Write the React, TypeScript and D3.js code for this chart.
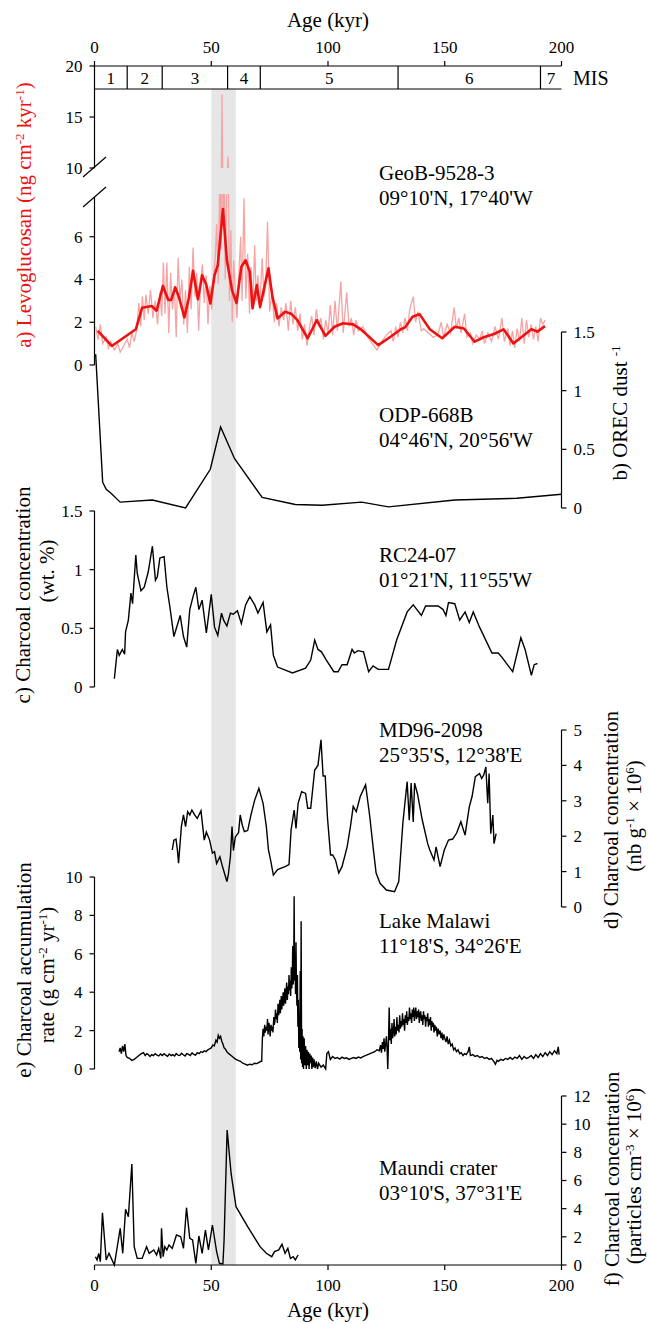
import React from 'react';
import * as d3 from 'd3';

const FONT = "'Liberation Serif', 'Times New Roman', serif";

// shared age axis
const ageTicks = [0, 50, 100, 150, 200];
const misBounds = [0, 14, 29, 57, 71, 130, 191, 200];
const misLabels = ['1', '2', '3', '4', '5', '6', '7'];
const bandAges = [50, 60.5];

// a) Levoglucosan, GeoB-9528-3 (raw + smoothed)
const levRaw: [number, number][] = [
  [0.5, 1.8], [1.5, 1.2], [2.5, 1.9], [3.5, 1.0], [5, 1.3], [6, 0.8], [7, 1.1], [8.5, 0.7], [10, 1.0], [11, 0.6],
  [12.5, 0.9], [14, 1.2], [15, 0.8], [16, 1.5], [17, 1.1], [18, 1.6], [19, 2.9], [19.8, 1.8], [20.5, 3.2], [21.3, 2.1],
  [22, 3.3], [23, 2.4], [24, 3.5], [25, 2.2], [26, 3.0], [27, 1.9], [28, 3.4], [28.8, 2.3], [29.5, 4.8], [30.2, 2.4],
  [31, 4.8], [31.8, 1.5], [32.6, 4.3], [33.4, 2.6], [34.2, 3.7], [35, 1.3], [35.8, 5.0], [36.6, 3.0], [37.4, 4.0], [38.2, 1.9],
  [39, 3.5], [39.8, 1.5], [40.6, 4.6], [41.4, 2.6], [42.2, 5.5], [43, 3.2], [43.8, 4.3], [44.6, 1.6], [45.4, 3.8], [46.2, 4.7],
  [47, 2.9], [47.8, 4.2], [48.6, 1.9], [49.4, 3.7], [50.2, 2.6], [51, 4.1], [51.8, 5.2], [52.3, 6.6], [53, 3.8], [53.6, 8.5],
  [54.2, 5.4], [54.6, 17.2], [55, 6.5], [55.5, 9.0], [56, 4.0], [56.6, 8.5], [57.2, 11.1], [57.8, 3.0], [58.4, 6.3], [59, 2.0],
  [59.6, 4.9], [60.3, 3.5], [61, 2.2], [61.8, 4.2], [62.6, 6.0], [63.2, 3.0], [64, 7.8], [64.8, 3.1], [65.6, 5.2], [66.4, 2.4],
  [67, 4.6], [67.8, 2.7], [68.6, 5.6], [69.3, 3.0], [70, 4.2], [70.8, 2.6], [71.8, 5.0], [72.6, 3.2], [73.4, 4.0], [74.1, 6.7],
  [75, 2.5], [76, 3.4], [77, 2.0], [78, 2.9], [79, 1.8], [80, 2.7], [81, 2.1], [82, 2.9], [83, 1.6], [84, 3.0],
  [85, 1.9], [86, 2.7], [87, 1.6], [88, 2.4], [89, 1.2], [90, 1.9], [91, 0.9], [92, 1.7], [93, 2.3], [94, 1.4],
  [95, 2.6], [96, 1.8], [97, 2.2], [98, 1.2], [99, 2.1], [100, 1.5], [101, 2.8], [102, 1.4], [103, 3.0], [104, 1.6],
  [105.5, 3.9], [106.5, 1.5], [108, 3.4], [109, 1.8], [110, 2.2], [111, 1.4], [112, 2.1], [113, 1.6], [115, 1.8], [117, 1.3],
  [119, 1.0], [121, 0.7], [123, 1.1], [125, 1.4], [127, 1.6], [128, 1.1], [129, 1.8], [130, 1.3], [131, 2.0], [132, 1.5],
  [133, 2.2], [134, 1.6], [135, 2.6], [136.5, 3.2], [137.5, 2.0], [138.5, 2.5], [140, 1.6], [141, 1.7], [143, 1.5], [145, 1.3],
  [147, 1.4], [148.5, 2.0], [149.5, 1.3], [151, 1.9], [152.5, 1.5], [154, 2.7], [155, 1.7], [156, 2.2], [157, 1.5], [158.5, 2.4],
  [159.5, 1.3], [161, 1.5], [162, 1.0], [163.5, 1.4], [165, 1.2], [166, 1.6], [167, 1.0], [168.5, 1.5], [170, 1.1], [171.5, 1.8],
  [173, 1.2], [174.5, 2.2], [175.5, 1.1], [177, 1.7], [178, 0.9], [179, 1.6], [180, 0.8], [181, 1.7], [182, 1.1], [183, 2.2],
  [184, 1.0], [185, 2.1], [186, 1.3], [187, 1.9], [188, 1.2], [189, 1.8], [190, 1.1], [191, 2.2], [192, 1.9], [193, 2.1],
];
const levSmooth: [number, number][] = [
  [1.4, 1.6], [7.4, 0.89], [17.7, 1.67], [20.4, 2.68], [24.5, 2.76], [26.6, 2.54], [29.3, 3.7], [31.6, 3.04], [32.8, 3.04],
  [34.6, 3.63], [36.3, 3.12], [38.5, 2.23], [40.4, 3.12], [42.2, 4.41], [44.3, 3.07], [46.1, 4.2], [47.9, 3.74], [49.6, 2.88],
  [51.4, 4.2], [52.8, 4.67], [55, 7.3], [56.7, 4.9], [58.9, 3.5], [60.8, 2.9], [62.9, 4.6], [64.7, 4.9], [66.5, 4.36],
  [67.7, 2.65], [69.5, 3.74], [70.9, 2.72], [74.5, 4.52], [76.2, 3.19], [78.4, 2.18], [81.6, 2.49], [84.2, 2.4], [86.9, 2.1],
  [91.3, 1.25], [95.2, 2.1], [98.9, 1.36], [102.8, 1.79], [106.4, 1.95], [110.8, 1.9], [114.4, 1.64], [121.5, 0.93],
  [126.8, 1.32], [131.2, 1.67], [133, 1.76], [136.2, 2.26], [139.2, 2.38], [143.6, 1.67], [148.9, 1.25], [154.3, 1.79],
  [158.2, 1.71], [162.8, 1.09], [166.7, 1.3], [171.1, 1.45], [175.2, 1.67], [179.4, 1.01], [187.1, 1.67], [189.7, 1.56],
  [192.9, 1.82],
];
const levTicksUpper = [20, 15, 10];
const levTicksLower = [0, 2, 4, 6];

// b) OREC dust-1, ODP-668B
const orec: [number, number][] = [
  [0.5, 1.31], [3.5, 0.22], [5, 0.16], [7.1, 0.125], [11, 0.05], [24.8, 0.068], [39, 0.0], [49.6, 0.33], [54, 0.69],
  [60, 0.42], [71.8, 0.09], [86, 0.03], [97.5, 0.023], [114.4, 0.05], [125.9, 0.01], [154.3, 0.068], [180.9, 0.083],
  [200, 0.117],
];
const orecTicks = [0, 0.5, 1, 1.5];

// c) RC24-07 charcoal (wt. %)
const rc24: [number, number][] = [
  [8.5, 0.07], [9.8, 0.32], [10.6, 0.27], [11.9, 0.32], [12.9, 0.28], [13.3, 0.47], [14.5, 0.57], [15.6, 0.8], [16.3, 0.71],
  [17.7, 1.125], [18.3, 0.97], [19.9, 0.82], [21.3, 0.85], [23, 0.98], [24.8, 1.2], [26.1, 0.91], [26.9, 0.94], [28, 1.1],
  [29.8, 1.11], [31, 0.85], [32.3, 0.68], [34, 0.43], [36.7, 0.61], [38.1, 0.43], [39.5, 0.34], [40.8, 0.66], [42.2, 0.77],
  [43.4, 0.85], [44.7, 0.66], [46.1, 0.74], [47.9, 0.46], [50, 0.79], [51.4, 0.51], [52.8, 0.44], [54.4, 0.63], [55.3, 0.57],
  [56.7, 0.52], [58.2, 0.63], [59.4, 0.62], [61.2, 0.65], [62.9, 0.54], [64.7, 0.7], [66.5, 0.77], [68.6, 0.7], [70, 0.63],
  [72.2, 0.72], [73.8, 0.47], [75.4, 0.53], [76.6, 0.27], [78.4, 0.17], [84.8, 0.12], [90.4, 0.16], [92.6, 0.23], [94.3, 0.4],
  [95.7, 0.32], [97.2, 0.3], [99.3, 0.23], [102.5, 0.13], [104.3, 0.13], [106, 0.19], [108.2, 0.19], [110.3, 0.32],
  [111.3, 0.29], [112.8, 0.31], [115.2, 0.3], [117.4, 0.13], [119.3, 0.18], [121.5, 0.15], [125.9, 0.15], [129.4, 0.4],
  [133.9, 0.64], [136.5, 0.7], [140, 0.61], [141.8, 0.69], [147.2, 0.69], [149.3, 0.66], [150.5, 0.61], [151.6, 0.72],
  [154.3, 0.71], [156.4, 0.57], [158.7, 0.64], [160.5, 0.55], [162.2, 0.64], [164.9, 0.51], [170.2, 0.29], [172.9, 0.29],
  [174.6, 0.25], [179.1, 0.13], [182.6, 0.42], [184.4, 0.32], [187.1, 0.1], [188.3, 0.19], [189.7, 0.2],
];
const rcTicks = [0, 0.5, 1, 1.5];

// d) MD96-2098 charcoal (nb g-1 x 10^6)
const md96: [number, number][] = [
  [33.3, 1.61], [34, 1.89], [34.9, 1.92], [35.5, 1.61], [36, 1.24], [37.2, 2.27], [38.1, 2.6], [39, 2.27], [39.9, 2.69],
  [40.8, 2.6], [41.7, 2.74], [42.9, 2.6], [44, 2.5], [45.6, 2.72], [47, 1.89], [47.9, 2.12], [49.3, 1.89], [50.5, 1.52],
  [51.4, 1.56], [52.3, 1.23], [53.7, 1.42], [55, 1.1], [56.7, 0.72], [57.3, 0.91], [58.2, 1.42], [58.9, 2.27], [59.5, 1.6],
  [60.3, 1.98], [61.7, 2.1], [62.4, 2.6], [63.3, 2.31], [64.2, 2.13], [65.6, 2.16], [67, 2.6], [68.6, 3.02], [70.4, 3.35],
  [72.2, 2.93], [73.6, 2.27], [74.5, 1.61], [75.4, 1.33], [76.6, 0.9], [78.4, 1.06], [81.6, 1.14], [83.3, 1.2], [84.2, 2.18],
  [85.5, 2.74], [86.3, 2.22], [87.2, 2.93], [88.7, 3.26], [90.4, 3.21], [91.3, 2.79], [92.6, 2.79], [94.3, 3.87], [95.7, 4.0],
  [97, 4.72], [97.9, 3.7], [98.8, 3.7], [99.8, 2.5], [101.1, 1.47], [102, 1.47], [103.2, 1.33], [104.6, 0.96], [106, 1.14],
  [108.2, 1.7], [109.6, 2.27], [110.8, 2.84], [112.1, 2.69], [113.8, 3.12], [116.1, 3.45], [117.9, 2.55], [119.3, 1.7],
  [120.6, 0.96], [122.3, 0.67], [125, 0.48], [128.5, 0.43], [130.3, 0.72], [132.1, 2.4], [133.9, 3.54], [134.8, 2.45],
  [135.6, 3.5], [136.5, 2.4], [137.1, 3.5], [138.3, 3.2], [140.4, 2.45], [142.7, 1.79], [143.6, 1.61], [145.4, 1.33],
  [146.3, 1.7], [148, 1.14], [149.8, 1.61], [151.6, 1.89], [153.4, 1.92], [155.1, 2.09], [156.9, 2.41], [158.7, 2.03],
  [160.5, 2.83], [161.7, 3.12], [163.1, 3.68], [164.9, 3.77], [165.8, 3.63], [166.7, 3.73], [167.6, 3.96], [168.4, 2.93],
  [169, 3.77], [169.7, 2.07], [170.6, 2.6], [171.1, 1.79], [172, 2.07],
];
const mdTicks = [0, 1, 2, 3, 4, 5];

// e) Lake Malawi charcoal accumulation rate
const malawi: [number, number][] = [
  [10.5, 0.9], [11, 1.1], [11.5, 0.8], [12, 1.2], [12.5, 0.9], [13, 1.3], [13.5, 0.7], [14, 0.6], [15, 0.55], [16, 0.45],
  [17, 0.5], [18, 0.6], [19, 0.7], [20, 0.8], [21, 0.85], [21.7, 0.7], [22.4, 0.8], [23, 0.75], [23.8, 0.65], [24.5, 0.75],
  [25.2, 0.7], [26, 0.8], [26.8, 0.72], [27.5, 0.68], [28.3, 0.78], [29, 0.7], [29.8, 0.8], [30.5, 0.72], [31.3, 0.66],
  [32, 0.78], [32.8, 0.7], [33.5, 0.75], [34.3, 0.68], [35, 0.8], [35.8, 0.72], [36.5, 0.7], [37.3, 0.82], [38, 0.74],
  [38.8, 0.68], [39.5, 0.8], [40.3, 0.76], [41, 0.7], [41.8, 0.84], [42.5, 0.76], [43.3, 0.72], [44, 0.85], [44.8, 0.8],
  [45.5, 0.9], [46.3, 0.86], [47, 0.95], [47.8, 0.9], [48.5, 1.0], [49.3, 1.05], [50, 1.1], [50.7, 1.25], [51.3, 1.2],
  [52, 1.5], [52.5, 1.4], [53, 1.75], [53.5, 1.6], [54, 1.7], [54.5, 1.45], [55, 1.3], [55.5, 1.1], [56, 1.05], [56.7, 0.9],
  [57.5, 0.8], [58.5, 0.7], [59.5, 0.6], [60.5, 0.5], [61.5, 0.45], [62.5, 0.4], [63.5, 0.3], [64.5, 0.25], [65.5, 0.2],
  [66.5, 0.25], [67.5, 0.22], [68.5, 0.3], [69.5, 0.28], [70.5, 0.35], [71.3, 0.4],
  [71.6, 0.4], [71.9, 1.6], [72.2, 2.1], [72.5, 1.7], [72.9, 2.3], [73.1, 1.9], [73.5, 2.2], [73.8, 2.0], [74.1, 2.6],
  [74.3, 1.8], [74.7, 2.4], [75.0, 2.2], [75.2, 1.7], [75.6, 2.3], [75.9, 2.0], [76.2, 2.2], [76.4, 1.9], [76.8, 2.7],
  [77.0, 2.3], [77.3, 2.5], [77.5, 3.1], [77.8, 2.6], [78.1, 2.9], [78.3, 2.4], [78.6, 3.4], [78.9, 2.8], [79.1, 3.2],
  [79.4, 3.6], [79.6, 2.9], [80.0, 3.8], [80.2, 3.1], [80.5, 3.5], [80.8, 4.0], [81.0, 3.3], [81.3, 3.7], [81.5, 4.2],
  [81.8, 3.4], [82.1, 4.0], [82.3, 4.5], [82.6, 3.6], [82.8, 4.3], [83.1, 3.9], [83.3, 4.9], [83.6, 4.1], [83.8, 4.6],
  [84.0, 3.8], [84.3, 5.3], [84.5, 4.2], [84.7, 4.8], [84.9, 6.4], [85.1, 4.4], [85.3, 5.0], [85.5, 9.0], [85.7, 4.6],
  [85.9, 5.8], [86.1, 3.9], [86.3, 6.6], [86.5, 4.1], [86.7, 3.3], [86.9, 4.9], [87.1, 2.2], [87.3, 3.6], [87.5, 1.1],
  [87.7, 2.8], [87.9, 0.9], [88.1, 5.1], [88.3, 0.5], [88.5, 7.7], [88.7, 0.3], [88.9, 2.1], [89.1, 0.1], [89.3, 1.7],
  [89.5, 0], [89.8, 1.6], [90.1, 0.2], [90.4, 1.2], [90.7, 0], [91, 1.0], [91.3, 0.2], [91.6, 0.9], [91.9, 0], [92.2, 0.8],
  [92.5, 0.3], [92.8, 0.7], [93.1, 0], [93.4, 0.6], [93.7, 0.1], [94, 0.5], [94.5, 0.05], [95, 0.4], [95.5, 0], [96, 0.3],
  [97, 0.1], [98, 0.2], [99, 0], [99.5, 0.8], [100.2, 0.9], [101, 0.5], [102, 0.65], [103, 0.55], [104, 0.6], [105, 0.52],
  [106, 0.62], [107, 0.55], [108, 0.58], [109, 0.5], [110, 0.55], [111, 0.6], [112, 0.55], [113, 0.62], [114, 0.58],
  [115, 0.65], [116, 0.7], [117, 0.75], [118, 0.8], [119, 0.85], [120, 0.9], [121, 1.0],
  [122, 0.95], [122.5, 1.25], [122.9, 0.85], [123.3, 1.4], [123.6, 1.05], [124.0, 1.6], [124.3, 0.9], [124.7, 1.3],
  [125.0, 1.7], [125.3, 1.1], [125.6, 0], [125.9, 1.4], [126.2, 3.2], [126.5, 1.5], [126.8, 2.1], [127.1, 1.3], [127.4, 2.4],
  [127.7, 1.6], [128.0, 1.9], [128.3, 2.6], [128.6, 1.7], [128.9, 2.2], [129.2, 1.8], [129.5, 2.7], [129.8, 2.0], [130.1, 2.3],
  [130.4, 1.9], [130.7, 2.8], [131.0, 2.1], [131.3, 2.5], [131.6, 2.2], [131.9, 2.9], [132.2, 2.3], [132.5, 2.6], [132.8, 2.0],
  [133.1, 2.8], [133.4, 2.4], [133.7, 3.0], [134.0, 2.3], [134.3, 2.7], [134.6, 2.5], [134.9, 3.2], [135.2, 2.6], [135.5, 2.9],
  [135.8, 2.4], [136.1, 3.1], [136.4, 2.7], [136.7, 3.2], [137.0, 2.5], [137.3, 2.9], [137.6, 3.2], [137.9, 2.6], [138.2, 3.0],
  [138.5, 2.7], [138.8, 3.1], [139.1, 2.4], [139.4, 2.9], [139.7, 3.0], [140.0, 2.5], [140.3, 2.8], [140.6, 2.3], [140.9, 3.0],
  [141.2, 2.6], [141.5, 2.8], [141.8, 2.2], [142.1, 2.7], [142.4, 2.5], [142.7, 2.9], [143.0, 2.2], [143.3, 2.6], [143.6, 2.3],
  [143.9, 2.7], [144.2, 2.0], [144.5, 2.5], [144.8, 2.2], [145.1, 2.4], [145.4, 1.9], [145.7, 2.3], [146.0, 2.0], [146.4, 2.2],
  [146.8, 1.7], [147.2, 2.1], [147.6, 1.8], [148.0, 2.0], [148.4, 1.6], [148.8, 1.9], [149.2, 1.5], [149.6, 1.8], [150.0, 1.6],
  [150.5, 1.4], [151.0, 1.7], [151.5, 1.3], [152.0, 1.5], [152.6, 1.2], [153.2, 1.3], [153.8, 1.0], [154.4, 1.1], [155.0, 0.9],
  [155.7, 1.0], [156.4, 0.8], [157.1, 0.85], [157.8, 0.7], [158.5, 0.8], [159.2, 0.75], [160, 0.9],
  [160.5, 1.15], [161, 0.7], [162, 0.75], [163, 0.65], [164, 0.7], [165, 0.6], [166, 0.65], [167, 0.55], [168, 0.6],
  [169, 0.5], [170, 0.55], [171, 0.4], [171.7, 0.25], [172.4, 0.45], [173, 0.4], [174, 0.5], [175, 0.45], [176, 0.55],
  [177, 0.5], [178, 0.6], [179, 0.5], [180, 0.62], [181, 0.55], [182, 0.7], [183, 0.5], [184, 0.65], [185, 0.55], [186, 0.6],
  [187, 0.7], [188, 0.55], [189, 0.75], [190, 0.6], [191, 0.8], [192, 0.65], [193, 0.85], [194, 0.7], [195, 0.9], [196, 0.75],
  [197, 0.95], [198, 0.8], [198.6, 1.15], [199, 0.75],
];
const malawiTicks = [0, 2, 4, 6, 8, 10];

// f) Maundi crater charcoal (particles cm-3 x 10^6)
const maundi: [number, number][] = [
  [0.4, 0.59], [1.1, 0.36], [1.8, 0.83], [2.5, 0.24], [3.4, 3.71], [5, 0.36], [6.2, 0.83], [8.5, 0], [11, 2.6], [12.1, 0.83],
  [13.3, 3.95], [14.5, 3.43], [16, 7.17], [17, 1.3], [18.3, 0.47], [20.4, 0.47], [22.3, 1.3], [23.4, 0.83], [25.4, 1.07],
  [26.6, 0.71], [27.5, 1.18], [28.4, 0.47], [28.7, 2.6], [29.4, 0.59], [30.1, 1.3], [31, 1.07], [31.9, 1.42], [33.3, 1.18],
  [35.1, 2.13], [36.9, 2.01], [38.1, 1.18], [39.4, 4.07], [40.8, 1.89], [42, 1.78], [43.4, 0.12], [44.7, 2.06], [46.1, 0.83],
  [47.5, 2.48], [48.8, 1.07], [50.5, 2.84], [52.3, 0.95], [53.5, 0.12], [55, 0.07], [55.5, 1.78], [56.8, 9.59], [58.5, 6.5],
  [60.6, 4.14], [65.6, 2.72], [70.9, 1.3], [73.6, 0.83], [75.9, 0.59], [77.1, 0.95], [78.9, 1.07], [80.3, 1.47], [81.6, 0.83],
  [82.8, 1.18], [83.9, 0.47], [85.1, 0.59], [86, 0.36], [87.2, 0.71],
];
const maundiTicks = [0, 2, 4, 6, 8, 10, 12];

const x = d3.scaleLinear().domain([0, 200]).range([94.5, 561.5]);
const yAUp = d3.scaleLinear().domain([10, 20]).range([168, 66]);
const yALo = d3.scaleLinear().domain([0, 8]).range([365, 194]);
const yB = d3.scaleLinear().domain([0, 1.5]).range([508, 332]);
const yC = d3.scaleLinear().domain([0, 1.5]).range([687, 511]);
const yD = d3.scaleLinear().domain([0, 5]).range([907, 730]);
const yE = d3.scaleLinear().domain([0, 10]).range([1069, 877]);
const yF = d3.scaleLinear().domain([0, 12]).range([1265, 1096]);

const AX_L = 94.5;
const AX_R = 561.5;
const ts = { fontFamily: FONT };

const lineFor = (y: d3.ScaleLinear<number, number>) =>
  d3.line<[number, number]>().x(d => x(d[0])).y(d => y(d[1]));

const fmt = (v: number) => String(v);

function LeftAxis({ y, ticks, y0, y1 }: { y: d3.ScaleLinear<number, number>; ticks: number[]; y0?: number; y1?: number }) {
  const r = y.range();
  return (
    <g>
      <line x1={AX_L} x2={AX_L} y1={y0 ?? r[1]} y2={y1 ?? r[0]} stroke="#000" strokeWidth={1.2} />
      {ticks.map(t => (
        <g key={t}>
          <line x1={AX_L - 5} x2={AX_L} y1={y(t)} y2={y(t)} stroke="#000" strokeWidth={1.2} />
          <text x={AX_L - 12} y={y(t)} dy="0.35em" textAnchor="end" fontSize={17} style={ts}>{fmt(t)}</text>
        </g>
      ))}
    </g>
  );
}

function RightAxis({ y, ticks }: { y: d3.ScaleLinear<number, number>; ticks: number[] }) {
  const r = y.range();
  return (
    <g>
      <line x1={AX_R} x2={AX_R} y1={r[1]} y2={r[0]} stroke="#000" strokeWidth={1.2} />
      {ticks.map(t => (
        <g key={t}>
          <line x1={AX_R} x2={AX_R + 5} y1={y(t)} y2={y(t)} stroke="#000" strokeWidth={1.2} />
          <text x={AX_R + 12} y={y(t)} dy="0.35em" textAnchor="start" fontSize={17} style={ts}>{fmt(t)}</text>
        </g>
      ))}
    </g>
  );
}

function Site({ name, coords, y }: { name: string; coords: string; y: number }) {
  return (
    <g fontSize={21}>
      <text x={379} y={y} style={ts}>{name}</text>
      <text x={379} y={y + 25} style={ts}>{coords}</text>
    </g>
  );
}

function VLabel({ x0, y0, children, fill }: { x0: number; y0: number; children: React.ReactNode; fill?: string }) {
  return (
    <text transform={`translate(${x0},${y0}) rotate(-90)`} textAnchor="middle" fontSize={21} fill={fill ?? '#000'} style={ts}>
      {children}
    </text>
  );
}

const Sup = ({ t }: { t: string }) => (
  <tspan baselineShift="super" fontSize={13} style={ts}>{t}</tspan>
);

export default function App() {
  const band = [x(bandAges[0]), x(bandAges[1])];
  return (
    <svg width={648} height={1324} style={{ position: 'absolute', left: 0, top: 0, background: '#fff' }}>
      <style>{`text, tspan { font-family: 'Liberation Serif', 'Times New Roman', serif !important; }`}</style>
      <defs>
        <clipPath id="clipUp"><rect x={AX_L} y={66} width={470} height={102} /></clipPath>
        <clipPath id="clipLo"><rect x={AX_L} y={194} width={470} height={172} /></clipPath>
      </defs>

      {/* grey band */}
      <rect x={band[0]} y={89} width={band[1] - band[0]} height={1265 - 89} fill="#e6e6e6" />

      {/* top axis */}
      <text x={(AX_L + AX_R) / 2} y={27} textAnchor="middle" fontSize={21} style={ts}>Age (kyr)</text>
      <line x1={AX_L} x2={AX_R} y1={66} y2={66} stroke="#000" strokeWidth={1.2} />
      {ageTicks.map(t => (
        <g key={t}>
          <line x1={x(t)} x2={x(t)} y1={61} y2={66} stroke="#000" strokeWidth={1.2} />
          <text x={x(t)} y={53} textAnchor="middle" fontSize={17} style={ts}>{t}</text>
        </g>
      ))}
      {/* MIS */}
      <line x1={AX_L} x2={AX_R} y1={89} y2={89} stroke="#000" strokeWidth={1.2} />
      {misBounds.slice(1, -1).map(b => (
        <line key={b} x1={x(b)} x2={x(b)} y1={66} y2={89} stroke="#000" strokeWidth={1.2} />
      ))}
      {misLabels.map((l, i) => (
        <text key={l} x={x((misBounds[i] + misBounds[i + 1]) / 2)} y={84} textAnchor="middle" fontSize={17} style={ts}>{l}</text>
      ))}
      <text x={573} y={85} fontSize={20} style={ts}>MIS</text>

      {/* a) levoglucosan */}
      <LeftAxis y={yAUp} ticks={levTicksUpper} y0={66} y1={168} />
      <LeftAxis y={yALo} ticks={levTicksLower} y0={197} y1={365} />
      <line x1={83} y1={177} x2={106} y2={157} stroke="#000" strokeWidth={1.2} />
      <line x1={83} y1={207} x2={106} y2={187} stroke="#000" strokeWidth={1.2} />
      <path d={lineFor(yAUp)(levRaw) ?? ''} fill="none" stroke="#f6a3a3" strokeWidth={1.3} clipPath="url(#clipUp)" />
      <path d={lineFor(yALo)(levRaw) ?? ''} fill="none" stroke="#f6a3a3" strokeWidth={1.3} clipPath="url(#clipLo)" />
      <path d={lineFor(yALo)(levSmooth) ?? ''} fill="none" stroke="#ee1111" strokeWidth={2.6} strokeLinejoin="round" />
      <VLabel x0={31} y0={215} fill="#ee1111">a) Levoglucosan (ng cm<Sup t="-2" /> kyr<Sup t="-1" />)</VLabel>
      <Site name="GeoB-9528-3" coords="09°10'N, 17°40'W" y={180} />

      {/* b) OREC */}
      <RightAxis y={yB} ticks={orecTicks} />
      <path d={lineFor(yB)(orec) ?? ''} fill="none" stroke="#000" strokeWidth={1.4} />
      <VLabel x0={627} y0={413}>b) OREC dust <Sup t="-1" /></VLabel>
      <Site name="ODP-668B" coords="04°46'N, 20°56'W" y={422} />

      {/* c) RC24-07 */}
      <LeftAxis y={yC} ticks={rcTicks} />
      <path d={lineFor(yC)(rc24) ?? ''} fill="none" stroke="#000" strokeWidth={1.4} />
      <VLabel x0={30} y0={595}>c) Charcoal concentration</VLabel>
      <VLabel x0={54} y0={571}>(wt. %)</VLabel>
      <Site name="RC24-07" coords="01°21'N, 11°55'W" y={562} />

      {/* d) MD96-2098 */}
      <RightAxis y={yD} ticks={mdTicks} />
      <path d={lineFor(yD)(md96) ?? ''} fill="none" stroke="#000" strokeWidth={1.4} />
      <VLabel x0={618} y0={820}>d) Charcoal concentration</VLabel>
      <VLabel x0={641} y0={816}>(nb g<Sup t="-1" /> × 10<Sup t="6" />)</VLabel>
      <Site name="MD96-2098" coords="25°35'S, 12°38'E" y={737} />

      {/* e) Lake Malawi */}
      <LeftAxis y={yE} ticks={malawiTicks} />
      <path d={lineFor(yE)(malawi) ?? ''} fill="none" stroke="#000" strokeWidth={1.4} />
      <VLabel x0={31} y0={970}>e) Charcoal accumulation</VLabel>
      <VLabel x0={54} y0={975}>rate (g cm<Sup t="-2" /> yr<Sup t="-1" />)</VLabel>
      <Site name="Lake Malawi" coords="11°18'S, 34°26'E" y={928} />

      {/* f) Maundi crater */}
      <RightAxis y={yF} ticks={maundiTicks} />
      <path d={lineFor(yF)(maundi) ?? ''} fill="none" stroke="#000" strokeWidth={1.4} />
      <VLabel x0={619} y0={1179}>f) Charcoal concentration</VLabel>
      <VLabel x0={641} y0={1176}>(particles cm<Sup t="-3" /> × 10<Sup t="6" />)</VLabel>
      <Site name="Maundi crater" coords="03°10'S, 37°31'E" y={1175} />

      {/* bottom axis */}
      <line x1={AX_L} x2={AX_R} y1={1265} y2={1265} stroke="#000" strokeWidth={1.2} />
      {ageTicks.map(t => (
        <g key={t}>
          <line x1={x(t)} x2={x(t)} y1={1265} y2={1270} stroke="#000" strokeWidth={1.2} />
          <text x={x(t)} y={1291} textAnchor="middle" fontSize={17} style={ts}>{t}</text>
        </g>
      ))}
      <text x={(AX_L + AX_R) / 2} y={1317} textAnchor="middle" fontSize={21} style={ts}>Age (kyr)</text>
    </svg>
  );
}
